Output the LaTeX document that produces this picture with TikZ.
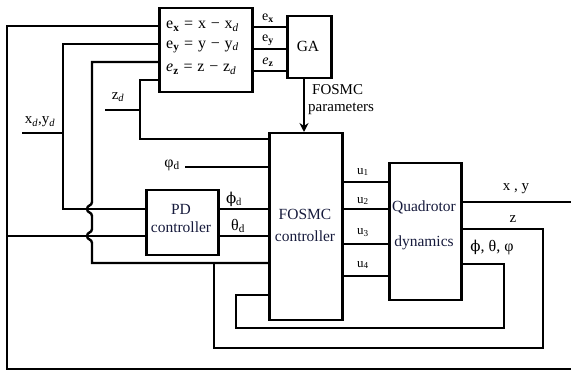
\documentclass[tikz,border=0pt]{standalone}
\usepackage{fontspec}
\setmainfont{Liberation Serif}
\newfontfamily\grk{DejaVu Serif}
\usetikzlibrary{arrows.meta}
\definecolor{boxtxt}{RGB}{22,26,60}
\tikzset{
  blk/.style={draw, line width=2.5pt, anchor=north west, inner sep=0pt},
  lbl/.style={inner sep=0pt, font=\fontsize{14}{16}\selectfont},
  big/.style={inner sep=0pt, font=\fontsize{15.5}{18}\selectfont, text=boxtxt, align=center},
  eqn/.style={inner sep=0pt, anchor=west, font=\fontsize{16}{18}\selectfont},
  wire/.style={line width=2.4pt}
}
\newcommand{\eqsp}{\hspace{0.3em}}
\begin{document}
\begin{tikzpicture}[x=1pt,y=-1pt]
\clip (0,0) rectangle (571,371);
% boxes
\node[blk, minimum width=93, minimum height=84] (err) at (158,7) {};
\node[blk, minimum width=44, minimum height=62] (ga) at (286,15) {};
\node[blk, minimum width=73, minimum height=187] (fos) at (268,132) {};
\node[blk, minimum width=72, minimum height=65] (pd) at (145,189) {};
\node[blk, minimum width=72, minimum height=137] (quad) at (388,162) {};
% box texts
\node[eqn] (ex) at (166,26) {e\textsubscript{\textbf{x}}\eqsp=\eqsp x\eqsp−\eqsp x\textsubscript{\textit{d}}};
\node[eqn] (ey) at (166,47) {e\textsubscript{\textbf{y}}\eqsp=\eqsp y\eqsp−\eqsp y\textsubscript{\textit{d}}};
\node[eqn] (ez) at (166,69) {\textit{e}\textsubscript{\textbf{z}}\eqsp=\eqsp z\eqsp−\eqsp z\textsubscript{\textit{d}}};
\node[big, text=black] (gat) at (308,46) {GA};
\node[big] (fost) at (305,225) {FOSMC\\[4pt]controller};
\node[big] (pdt) at (181,219) {PD\\controller};
\node[big] (quadt) at (424,207) {Quadrotor};
\node[big] (quadt2) at (424,243) {dynamics};
% labels
\node[lbl, anchor=west, font=\fontsize{15}{17}\selectfont, align=left] (par) at (308,100) {\hspace*{4pt}FOSMC\\parameters};
\node[lbl] (lex) at (268,18) {e\textsubscript{\textbf{x}}};
\node[lbl] (ley) at (268,40) {e\textsubscript{\textbf{y}}};
\node[lbl] (lez) at (268,62) {\textit{e}\textsubscript{\textbf{z}}};
\node[lbl, font=\fontsize{15}{17}\selectfont] (lxy) at (40,122) {x\textsubscript{\textit{d}},y\textsubscript{\textit{d}}};
\node[lbl, font=\fontsize{15}{17}\selectfont] (lzd) at (118,97) {z\textsubscript{\textit{d}}};
\node[lbl, font=\fontsize{16}{18}\selectfont] (lpsi) at (172,165) {φ\textsubscript{d}};
\node[lbl, font=\fontsize{15}{17}\selectfont] (lphi) at (234,199) {{\grk ϕ}\textsubscript{d}};
\node[lbl, font=\fontsize{16}{18}\selectfont] (lth) at (238,226) {θ\textsubscript{d}};
\node[lbl, font=\fontsize{13}{15}\selectfont] (u1) at (363,172) {u\textsubscript{1}};
\node[lbl, font=\fontsize{13}{15}\selectfont] (u2) at (363,201) {u\textsubscript{2}};
\node[lbl, font=\fontsize{13}{15}\selectfont] (u3) at (363,233) {u\textsubscript{3}};
\node[lbl, font=\fontsize{13}{15}\selectfont] (u4) at (363,265) {u\textsubscript{4}};
\node[lbl, font=\fontsize{15}{17}\selectfont] (lout) at (516,189) {x , y};
\node[lbl, font=\fontsize{15}{17}\selectfont] (lz) at (513,219) {z};
\node[lbl, font=\fontsize{16}{18}\selectfont] (lang) at (492,248) {{\grk\fontsize{15}{17}\selectfont ϕ}, θ, φ};
% wires
\begin{scope}[wire]
\draw (quad.east |- 0,202) -- (575,202) -- (575,369) -- (7,369) -- (7,26) -- (err.west |- 0,26);
\draw (7,236) -- (pd.west |- 0,236);
\draw (err.west |- 0,44) -- (63,44) -- (63,209) -- (pd.west |- 0,209);
\draw (22,133) -- (63,133);
\draw (err.west |- 0,62) -- (92,62) -- (92,202)
  .. controls (92,206) and (87,205) .. (87,209)
  .. controls (87,213) and (92,212) .. (92,216) -- (92,229)
  .. controls (92,233) and (87,232) .. (87,236)
  .. controls (87,240) and (92,239) .. (92,243) -- (92,263) -- (fos.west |- 0,263);
\draw (quad.east |- 0,229) -- (543,229) -- (543,348) -- (214,348) -- (214,263);
\draw (quad.east |- 0,264) -- (504,264) -- (504,328) -- (236,328) -- (236,295) -- (fos.west |- 0,295);
\draw (105,110) -- (140,110);
\draw (err.west |- 0,80) -- (140,80) -- (140,139) -- (fos.west |- 0,139);
\draw (185,167) -- (fos.west |- 0,167);
\draw (pd.east |- 0,209) -- (fos.west |- 0,209);
\draw (pd.east |- 0,236) -- (fos.west |- 0,236);
\foreach \yy in {182,209,244,276} \draw (fos.east |- 0,\yy) -- (quad.west |- 0,\yy);
\foreach \yy in {27,49,71} \draw (err.east |- 0,\yy) -- (ga.west |- 0,\yy);
\draw[-{Stealth[length=9pt,width=9pt]}] (ga.south -| 304,0) -- (fos.north -| 304,0);
\end{scope}
\end{tikzpicture}
\end{document}
